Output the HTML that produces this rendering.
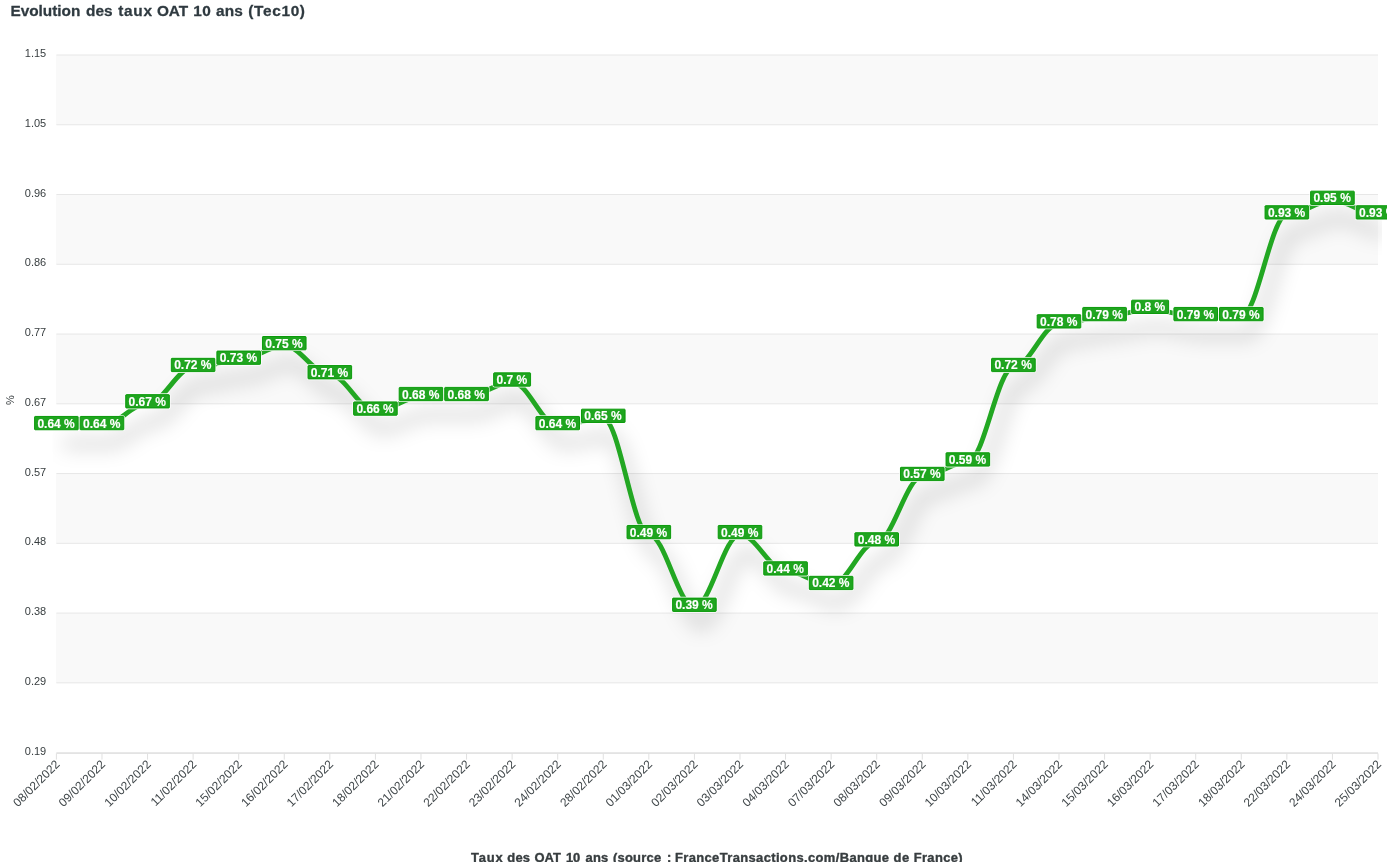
<!DOCTYPE html>
<html lang="fr"><head><meta charset="utf-8"><title>Evolution des taux OAT 10 ans (Tec10)</title>
<style>
html,body{margin:0;padding:0;background:#fff;}
body{width:1387px;height:862px;overflow:hidden;font-family:"Liberation Sans",Arial,Helvetica,sans-serif;}
svg{display:block;position:absolute;left:0;top:0;}
text{font-family:"Liberation Sans",Arial,Helvetica,sans-serif;}
.yl{font-size:11px;fill:#373d3f;text-anchor:end;}
.xl{font-size:12px;fill:#40474a;text-anchor:end;}
.dl{font-size:12px;font-weight:700;fill:#fff;stroke:#fff;stroke-width:0.15px;text-anchor:middle;}
.ttl{font-size:14px;font-weight:700;fill:#2f3a40;stroke:#2f3a40;stroke-width:0.25px;stroke-linejoin:round;}
.xt{font-size:12px;font-weight:700;fill:#373d3f;stroke:#373d3f;stroke-width:0.35px;stroke-linejoin:round;}
.yt{font-size:11px;fill:#373d3f;text-anchor:middle;}
</style></head><body>
<svg width="1387" height="862" viewBox="0 0 1387 862">
<defs><filter id="sh" filterUnits="userSpaceOnUse" x="-100" y="-100" width="1587" height="1062" color-interpolation-filters="sRGB">
<feFlood flood-color="#000" flood-opacity="0.33" result="f"/>
<feComposite in="f" in2="SourceAlpha" operator="in" result="c"/>
<feOffset in="c" dx="7" dy="18" result="o"/>
<feGaussianBlur in="o" stdDeviation="10" result="b"/>
<feMerge><feMergeNode in="b"/><feMergeNode in="SourceGraphic"/></feMerge>
</filter>
<clipPath id="cp"><rect x="52.4" y="51.0" width="1329.6" height="705.6"/></clipPath>
</defs>
<text class="ttl" y="0" transform="translate(0 16.1) scale(1.1 1.03)"><tspan x="9.55" textLength="63.45" lengthAdjust="spacing">Evolution</tspan> <tspan x="78.18" textLength="24.27" lengthAdjust="spacing">des</tspan> <tspan x="107.55" textLength="30.64" lengthAdjust="spacing">taux</tspan> <tspan x="142.64" textLength="28.45" lengthAdjust="spacing">OAT</tspan> <tspan x="175.73" textLength="16.00" lengthAdjust="spacing">10</tspan> <tspan x="196.36" textLength="24.45" lengthAdjust="spacing">ans</tspan> <tspan x="225.64" textLength="51.64" lengthAdjust="spacing">(Tec10)</tspan></text>
<rect x="56" y="55.00" width="1322" height="69.76" fill="#f3f3f3" fill-opacity="0.5"/>
<rect x="56" y="194.52" width="1322" height="69.76" fill="#f3f3f3" fill-opacity="0.5"/>
<rect x="56" y="334.04" width="1322" height="69.76" fill="#f3f3f3" fill-opacity="0.5"/>
<rect x="56" y="473.56" width="1322" height="69.76" fill="#f3f3f3" fill-opacity="0.5"/>
<rect x="56" y="613.08" width="1322" height="69.76" fill="#f3f3f3" fill-opacity="0.5"/>
<line x1="56.4" y1="55.00" x2="1378.0" y2="55.00" stroke="#e7e7e7" stroke-width="1"/>
<line x1="56.4" y1="124.76" x2="1378.0" y2="124.76" stroke="#e7e7e7" stroke-width="1"/>
<line x1="56.4" y1="194.52" x2="1378.0" y2="194.52" stroke="#e7e7e7" stroke-width="1"/>
<line x1="56.4" y1="264.28" x2="1378.0" y2="264.28" stroke="#e7e7e7" stroke-width="1"/>
<line x1="56.4" y1="334.04" x2="1378.0" y2="334.04" stroke="#e7e7e7" stroke-width="1"/>
<line x1="56.4" y1="403.80" x2="1378.0" y2="403.80" stroke="#e7e7e7" stroke-width="1"/>
<line x1="56.4" y1="473.56" x2="1378.0" y2="473.56" stroke="#e7e7e7" stroke-width="1"/>
<line x1="56.4" y1="543.32" x2="1378.0" y2="543.32" stroke="#e7e7e7" stroke-width="1"/>
<line x1="56.4" y1="613.08" x2="1378.0" y2="613.08" stroke="#e7e7e7" stroke-width="1"/>
<line x1="56.4" y1="682.84" x2="1378.0" y2="682.84" stroke="#e7e7e7" stroke-width="1"/>
<line x1="56.4" y1="752.60" x2="1378.0" y2="752.60" stroke="#e7e7e7" stroke-width="1"/>
<line x1="56.4" y1="753.4" x2="1378.0" y2="753.4" stroke="#e0e0e0" stroke-width="1"/>
<line x1="56.40" y1="753.4" x2="56.40" y2="759.60" stroke="#e0e0e0" stroke-width="1"/>
<line x1="101.97" y1="753.4" x2="101.97" y2="759.60" stroke="#e0e0e0" stroke-width="1"/>
<line x1="147.54" y1="753.4" x2="147.54" y2="759.60" stroke="#e0e0e0" stroke-width="1"/>
<line x1="193.12" y1="753.4" x2="193.12" y2="759.60" stroke="#e0e0e0" stroke-width="1"/>
<line x1="238.69" y1="753.4" x2="238.69" y2="759.60" stroke="#e0e0e0" stroke-width="1"/>
<line x1="284.26" y1="753.4" x2="284.26" y2="759.60" stroke="#e0e0e0" stroke-width="1"/>
<line x1="329.83" y1="753.4" x2="329.83" y2="759.60" stroke="#e0e0e0" stroke-width="1"/>
<line x1="375.41" y1="753.4" x2="375.41" y2="759.60" stroke="#e0e0e0" stroke-width="1"/>
<line x1="420.98" y1="753.4" x2="420.98" y2="759.60" stroke="#e0e0e0" stroke-width="1"/>
<line x1="466.55" y1="753.4" x2="466.55" y2="759.60" stroke="#e0e0e0" stroke-width="1"/>
<line x1="512.12" y1="753.4" x2="512.12" y2="759.60" stroke="#e0e0e0" stroke-width="1"/>
<line x1="557.70" y1="753.4" x2="557.70" y2="759.60" stroke="#e0e0e0" stroke-width="1"/>
<line x1="603.27" y1="753.4" x2="603.27" y2="759.60" stroke="#e0e0e0" stroke-width="1"/>
<line x1="648.84" y1="753.4" x2="648.84" y2="759.60" stroke="#e0e0e0" stroke-width="1"/>
<line x1="694.41" y1="753.4" x2="694.41" y2="759.60" stroke="#e0e0e0" stroke-width="1"/>
<line x1="739.99" y1="753.4" x2="739.99" y2="759.60" stroke="#e0e0e0" stroke-width="1"/>
<line x1="785.56" y1="753.4" x2="785.56" y2="759.60" stroke="#e0e0e0" stroke-width="1"/>
<line x1="831.13" y1="753.4" x2="831.13" y2="759.60" stroke="#e0e0e0" stroke-width="1"/>
<line x1="876.70" y1="753.4" x2="876.70" y2="759.60" stroke="#e0e0e0" stroke-width="1"/>
<line x1="922.28" y1="753.4" x2="922.28" y2="759.60" stroke="#e0e0e0" stroke-width="1"/>
<line x1="967.85" y1="753.4" x2="967.85" y2="759.60" stroke="#e0e0e0" stroke-width="1"/>
<line x1="1013.42" y1="753.4" x2="1013.42" y2="759.60" stroke="#e0e0e0" stroke-width="1"/>
<line x1="1058.99" y1="753.4" x2="1058.99" y2="759.60" stroke="#e0e0e0" stroke-width="1"/>
<line x1="1104.57" y1="753.4" x2="1104.57" y2="759.60" stroke="#e0e0e0" stroke-width="1"/>
<line x1="1150.14" y1="753.4" x2="1150.14" y2="759.60" stroke="#e0e0e0" stroke-width="1"/>
<line x1="1195.71" y1="753.4" x2="1195.71" y2="759.60" stroke="#e0e0e0" stroke-width="1"/>
<line x1="1241.28" y1="753.4" x2="1241.28" y2="759.60" stroke="#e0e0e0" stroke-width="1"/>
<line x1="1286.86" y1="753.4" x2="1286.86" y2="759.60" stroke="#e0e0e0" stroke-width="1"/>
<line x1="1332.43" y1="753.4" x2="1332.43" y2="759.60" stroke="#e0e0e0" stroke-width="1"/>
<line x1="1378.00" y1="753.4" x2="1378.00" y2="759.60" stroke="#e0e0e0" stroke-width="1"/>
<text class="xl" x="60.50" y="765.00" transform="rotate(-45 60.50 765.00)">08/02/2022</text>
<text class="xl" x="106.07" y="765.00" transform="rotate(-45 106.07 765.00)">09/02/2022</text>
<text class="xl" x="151.64" y="765.00" transform="rotate(-45 151.64 765.00)">10/02/2022</text>
<text class="xl" x="197.22" y="765.00" transform="rotate(-45 197.22 765.00)">11/02/2022</text>
<text class="xl" x="242.79" y="765.00" transform="rotate(-45 242.79 765.00)">15/02/2022</text>
<text class="xl" x="288.36" y="765.00" transform="rotate(-45 288.36 765.00)">16/02/2022</text>
<text class="xl" x="333.93" y="765.00" transform="rotate(-45 333.93 765.00)">17/02/2022</text>
<text class="xl" x="379.51" y="765.00" transform="rotate(-45 379.51 765.00)">18/02/2022</text>
<text class="xl" x="425.08" y="765.00" transform="rotate(-45 425.08 765.00)">21/02/2022</text>
<text class="xl" x="470.65" y="765.00" transform="rotate(-45 470.65 765.00)">22/02/2022</text>
<text class="xl" x="516.22" y="765.00" transform="rotate(-45 516.22 765.00)">23/02/2022</text>
<text class="xl" x="561.80" y="765.00" transform="rotate(-45 561.80 765.00)">24/02/2022</text>
<text class="xl" x="607.37" y="765.00" transform="rotate(-45 607.37 765.00)">28/02/2022</text>
<text class="xl" x="652.94" y="765.00" transform="rotate(-45 652.94 765.00)">01/03/2022</text>
<text class="xl" x="698.51" y="765.00" transform="rotate(-45 698.51 765.00)">02/03/2022</text>
<text class="xl" x="744.09" y="765.00" transform="rotate(-45 744.09 765.00)">03/03/2022</text>
<text class="xl" x="789.66" y="765.00" transform="rotate(-45 789.66 765.00)">04/03/2022</text>
<text class="xl" x="835.23" y="765.00" transform="rotate(-45 835.23 765.00)">07/03/2022</text>
<text class="xl" x="880.80" y="765.00" transform="rotate(-45 880.80 765.00)">08/03/2022</text>
<text class="xl" x="926.38" y="765.00" transform="rotate(-45 926.38 765.00)">09/03/2022</text>
<text class="xl" x="971.95" y="765.00" transform="rotate(-45 971.95 765.00)">10/03/2022</text>
<text class="xl" x="1017.52" y="765.00" transform="rotate(-45 1017.52 765.00)">11/03/2022</text>
<text class="xl" x="1063.09" y="765.00" transform="rotate(-45 1063.09 765.00)">14/03/2022</text>
<text class="xl" x="1108.67" y="765.00" transform="rotate(-45 1108.67 765.00)">15/03/2022</text>
<text class="xl" x="1154.24" y="765.00" transform="rotate(-45 1154.24 765.00)">16/03/2022</text>
<text class="xl" x="1199.81" y="765.00" transform="rotate(-45 1199.81 765.00)">17/03/2022</text>
<text class="xl" x="1245.38" y="765.00" transform="rotate(-45 1245.38 765.00)">18/03/2022</text>
<text class="xl" x="1290.96" y="765.00" transform="rotate(-45 1290.96 765.00)">22/03/2022</text>
<text class="xl" x="1336.53" y="765.00" transform="rotate(-45 1336.53 765.00)">24/03/2022</text>
<text class="xl" x="1382.10" y="765.00" transform="rotate(-45 1382.10 765.00)">25/03/2022</text>
<text class="yl" x="46.2" y="57.05">1.15</text>
<text class="yl" x="46.2" y="126.81">1.05</text>
<text class="yl" x="46.2" y="196.57">0.96</text>
<text class="yl" x="46.2" y="266.33">0.86</text>
<text class="yl" x="46.2" y="336.09">0.77</text>
<text class="yl" x="46.2" y="405.85">0.67</text>
<text class="yl" x="46.2" y="475.61">0.57</text>
<text class="yl" x="46.2" y="545.37">0.48</text>
<text class="yl" x="46.2" y="615.13">0.38</text>
<text class="yl" x="46.2" y="684.89">0.29</text>
<text class="yl" x="46.2" y="754.65">0.19</text>
<text class="yt" x="14" y="400" transform="rotate(-90 14 400)">%</text>
<g clip-path="url(#cp)"><path d="M56.40 425.60 C72.35 425.60 86.02 425.60 101.97 425.60 C117.92 425.60 131.59 403.80 147.54 403.80 C163.50 403.80 177.17 367.47 193.12 367.47 C209.07 367.47 222.74 360.20 238.69 360.20 C254.64 360.20 268.31 345.67 284.26 345.67 C300.21 345.67 313.88 374.73 329.83 374.73 C345.78 374.73 359.46 411.07 375.41 411.07 C391.36 411.07 405.03 396.53 420.98 396.53 C436.93 396.53 450.60 396.53 466.55 396.53 C482.50 396.53 496.17 382.00 512.12 382.00 C528.07 382.00 541.75 425.60 557.70 425.60 C573.65 425.60 587.32 418.33 603.27 418.33 C619.22 418.33 632.89 534.60 648.84 534.60 C664.79 534.60 678.46 607.27 694.41 607.27 C710.36 607.27 724.04 534.60 739.99 534.60 C755.94 534.60 769.61 570.93 785.56 570.93 C801.51 570.93 815.18 585.47 831.13 585.47 C847.08 585.47 860.75 541.87 876.70 541.87 C892.65 541.87 906.33 476.47 922.28 476.47 C938.23 476.47 951.90 461.93 967.85 461.93 C983.80 461.93 997.47 367.47 1013.42 367.47 C1029.37 367.47 1043.04 323.87 1058.99 323.87 C1074.94 323.87 1088.62 316.60 1104.57 316.60 C1120.52 316.60 1134.19 309.33 1150.14 309.33 C1166.09 309.33 1179.76 316.60 1195.71 316.60 C1211.66 316.60 1225.33 316.60 1241.28 316.60 C1257.23 316.60 1270.90 214.87 1286.86 214.87 C1302.81 214.87 1316.48 200.33 1332.43 200.33 C1348.38 200.33 1362.05 214.87 1378.00 214.87" fill="none" stroke="#22a722" stroke-width="4.8" stroke-linecap="butt" filter="url(#sh)"/></g>
<rect x="33.30" y="415.15" width="46.20" height="15.90" rx="2.6" ry="2.6" fill="#fff" fill-opacity="0.9"/>
<rect x="34.60" y="416.45" width="43.60" height="13.3" rx="0.6" ry="0.6" fill="#1fa51f" stroke="#0a9a0a" stroke-width="1"/>
<text class="dl" x="56.10" y="427.60">0.64 %</text>
<rect x="78.87" y="415.15" width="46.20" height="15.90" rx="2.6" ry="2.6" fill="#fff" fill-opacity="0.9"/>
<rect x="80.17" y="416.45" width="43.60" height="13.3" rx="0.6" ry="0.6" fill="#1fa51f" stroke="#0a9a0a" stroke-width="1"/>
<text class="dl" x="101.67" y="427.60">0.64 %</text>
<rect x="124.44" y="393.35" width="46.20" height="15.90" rx="2.6" ry="2.6" fill="#fff" fill-opacity="0.9"/>
<rect x="125.74" y="394.65" width="43.60" height="13.3" rx="0.6" ry="0.6" fill="#1fa51f" stroke="#0a9a0a" stroke-width="1"/>
<text class="dl" x="147.24" y="405.80">0.67 %</text>
<rect x="170.02" y="357.02" width="46.20" height="15.90" rx="2.6" ry="2.6" fill="#fff" fill-opacity="0.9"/>
<rect x="171.32" y="358.32" width="43.60" height="13.3" rx="0.6" ry="0.6" fill="#1fa51f" stroke="#0a9a0a" stroke-width="1"/>
<text class="dl" x="192.82" y="369.47">0.72 %</text>
<rect x="215.59" y="349.75" width="46.20" height="15.90" rx="2.6" ry="2.6" fill="#fff" fill-opacity="0.9"/>
<rect x="216.89" y="351.05" width="43.60" height="13.3" rx="0.6" ry="0.6" fill="#1fa51f" stroke="#0a9a0a" stroke-width="1"/>
<text class="dl" x="238.39" y="362.20">0.73 %</text>
<rect x="261.16" y="335.22" width="46.20" height="15.90" rx="2.6" ry="2.6" fill="#fff" fill-opacity="0.9"/>
<rect x="262.46" y="336.52" width="43.60" height="13.3" rx="0.6" ry="0.6" fill="#1fa51f" stroke="#0a9a0a" stroke-width="1"/>
<text class="dl" x="283.96" y="347.67">0.75 %</text>
<rect x="306.73" y="364.28" width="46.20" height="15.90" rx="2.6" ry="2.6" fill="#fff" fill-opacity="0.9"/>
<rect x="308.03" y="365.58" width="43.60" height="13.3" rx="0.6" ry="0.6" fill="#1fa51f" stroke="#0a9a0a" stroke-width="1"/>
<text class="dl" x="329.53" y="376.73">0.71 %</text>
<rect x="352.31" y="400.62" width="46.20" height="15.90" rx="2.6" ry="2.6" fill="#fff" fill-opacity="0.9"/>
<rect x="353.61" y="401.92" width="43.60" height="13.3" rx="0.6" ry="0.6" fill="#1fa51f" stroke="#0a9a0a" stroke-width="1"/>
<text class="dl" x="375.11" y="413.07">0.66 %</text>
<rect x="397.88" y="386.08" width="46.20" height="15.90" rx="2.6" ry="2.6" fill="#fff" fill-opacity="0.9"/>
<rect x="399.18" y="387.38" width="43.60" height="13.3" rx="0.6" ry="0.6" fill="#1fa51f" stroke="#0a9a0a" stroke-width="1"/>
<text class="dl" x="420.68" y="398.53">0.68 %</text>
<rect x="443.45" y="386.08" width="46.20" height="15.90" rx="2.6" ry="2.6" fill="#fff" fill-opacity="0.9"/>
<rect x="444.75" y="387.38" width="43.60" height="13.3" rx="0.6" ry="0.6" fill="#1fa51f" stroke="#0a9a0a" stroke-width="1"/>
<text class="dl" x="466.25" y="398.53">0.68 %</text>
<rect x="492.36" y="371.55" width="39.53" height="15.90" rx="2.6" ry="2.6" fill="#fff" fill-opacity="0.9"/>
<rect x="493.66" y="372.85" width="36.93" height="13.3" rx="0.6" ry="0.6" fill="#1fa51f" stroke="#0a9a0a" stroke-width="1"/>
<text class="dl" x="511.82" y="384.00">0.7 %</text>
<rect x="534.60" y="415.15" width="46.20" height="15.90" rx="2.6" ry="2.6" fill="#fff" fill-opacity="0.9"/>
<rect x="535.90" y="416.45" width="43.60" height="13.3" rx="0.6" ry="0.6" fill="#1fa51f" stroke="#0a9a0a" stroke-width="1"/>
<text class="dl" x="557.40" y="427.60">0.64 %</text>
<rect x="580.17" y="407.88" width="46.20" height="15.90" rx="2.6" ry="2.6" fill="#fff" fill-opacity="0.9"/>
<rect x="581.47" y="409.18" width="43.60" height="13.3" rx="0.6" ry="0.6" fill="#1fa51f" stroke="#0a9a0a" stroke-width="1"/>
<text class="dl" x="602.97" y="420.33">0.65 %</text>
<rect x="625.74" y="524.15" width="46.20" height="15.90" rx="2.6" ry="2.6" fill="#fff" fill-opacity="0.9"/>
<rect x="627.04" y="525.45" width="43.60" height="13.3" rx="0.6" ry="0.6" fill="#1fa51f" stroke="#0a9a0a" stroke-width="1"/>
<text class="dl" x="648.54" y="536.60">0.49 %</text>
<rect x="671.31" y="596.82" width="46.20" height="15.90" rx="2.6" ry="2.6" fill="#fff" fill-opacity="0.9"/>
<rect x="672.61" y="598.12" width="43.60" height="13.3" rx="0.6" ry="0.6" fill="#1fa51f" stroke="#0a9a0a" stroke-width="1"/>
<text class="dl" x="694.11" y="609.27">0.39 %</text>
<rect x="716.89" y="524.15" width="46.20" height="15.90" rx="2.6" ry="2.6" fill="#fff" fill-opacity="0.9"/>
<rect x="718.19" y="525.45" width="43.60" height="13.3" rx="0.6" ry="0.6" fill="#1fa51f" stroke="#0a9a0a" stroke-width="1"/>
<text class="dl" x="739.69" y="536.60">0.49 %</text>
<rect x="762.46" y="560.48" width="46.20" height="15.90" rx="2.6" ry="2.6" fill="#fff" fill-opacity="0.9"/>
<rect x="763.76" y="561.78" width="43.60" height="13.3" rx="0.6" ry="0.6" fill="#1fa51f" stroke="#0a9a0a" stroke-width="1"/>
<text class="dl" x="785.26" y="572.93">0.44 %</text>
<rect x="808.03" y="575.02" width="46.20" height="15.90" rx="2.6" ry="2.6" fill="#fff" fill-opacity="0.9"/>
<rect x="809.33" y="576.32" width="43.60" height="13.3" rx="0.6" ry="0.6" fill="#1fa51f" stroke="#0a9a0a" stroke-width="1"/>
<text class="dl" x="830.83" y="587.47">0.42 %</text>
<rect x="853.60" y="531.42" width="46.20" height="15.90" rx="2.6" ry="2.6" fill="#fff" fill-opacity="0.9"/>
<rect x="854.90" y="532.72" width="43.60" height="13.3" rx="0.6" ry="0.6" fill="#1fa51f" stroke="#0a9a0a" stroke-width="1"/>
<text class="dl" x="876.40" y="543.87">0.48 %</text>
<rect x="899.18" y="466.02" width="46.20" height="15.90" rx="2.6" ry="2.6" fill="#fff" fill-opacity="0.9"/>
<rect x="900.48" y="467.32" width="43.60" height="13.3" rx="0.6" ry="0.6" fill="#1fa51f" stroke="#0a9a0a" stroke-width="1"/>
<text class="dl" x="921.98" y="478.47">0.57 %</text>
<rect x="944.75" y="451.48" width="46.20" height="15.90" rx="2.6" ry="2.6" fill="#fff" fill-opacity="0.9"/>
<rect x="946.05" y="452.78" width="43.60" height="13.3" rx="0.6" ry="0.6" fill="#1fa51f" stroke="#0a9a0a" stroke-width="1"/>
<text class="dl" x="967.55" y="463.93">0.59 %</text>
<rect x="990.32" y="357.02" width="46.20" height="15.90" rx="2.6" ry="2.6" fill="#fff" fill-opacity="0.9"/>
<rect x="991.62" y="358.32" width="43.60" height="13.3" rx="0.6" ry="0.6" fill="#1fa51f" stroke="#0a9a0a" stroke-width="1"/>
<text class="dl" x="1013.12" y="369.47">0.72 %</text>
<rect x="1035.89" y="313.42" width="46.20" height="15.90" rx="2.6" ry="2.6" fill="#fff" fill-opacity="0.9"/>
<rect x="1037.19" y="314.72" width="43.60" height="13.3" rx="0.6" ry="0.6" fill="#1fa51f" stroke="#0a9a0a" stroke-width="1"/>
<text class="dl" x="1058.69" y="325.87">0.78 %</text>
<rect x="1081.47" y="306.15" width="46.20" height="15.90" rx="2.6" ry="2.6" fill="#fff" fill-opacity="0.9"/>
<rect x="1082.77" y="307.45" width="43.60" height="13.3" rx="0.6" ry="0.6" fill="#1fa51f" stroke="#0a9a0a" stroke-width="1"/>
<text class="dl" x="1104.27" y="318.60">0.79 %</text>
<rect x="1130.37" y="298.88" width="39.53" height="15.90" rx="2.6" ry="2.6" fill="#fff" fill-opacity="0.9"/>
<rect x="1131.67" y="300.18" width="36.93" height="13.3" rx="0.6" ry="0.6" fill="#1fa51f" stroke="#0a9a0a" stroke-width="1"/>
<text class="dl" x="1149.84" y="311.33">0.8 %</text>
<rect x="1172.61" y="306.15" width="46.20" height="15.90" rx="2.6" ry="2.6" fill="#fff" fill-opacity="0.9"/>
<rect x="1173.91" y="307.45" width="43.60" height="13.3" rx="0.6" ry="0.6" fill="#1fa51f" stroke="#0a9a0a" stroke-width="1"/>
<text class="dl" x="1195.41" y="318.60">0.79 %</text>
<rect x="1218.18" y="306.15" width="46.20" height="15.90" rx="2.6" ry="2.6" fill="#fff" fill-opacity="0.9"/>
<rect x="1219.48" y="307.45" width="43.60" height="13.3" rx="0.6" ry="0.6" fill="#1fa51f" stroke="#0a9a0a" stroke-width="1"/>
<text class="dl" x="1240.98" y="318.60">0.79 %</text>
<rect x="1263.76" y="204.42" width="46.20" height="15.90" rx="2.6" ry="2.6" fill="#fff" fill-opacity="0.9"/>
<rect x="1265.06" y="205.72" width="43.60" height="13.3" rx="0.6" ry="0.6" fill="#1fa51f" stroke="#0a9a0a" stroke-width="1"/>
<text class="dl" x="1286.56" y="216.87">0.93 %</text>
<rect x="1309.33" y="189.88" width="46.20" height="15.90" rx="2.6" ry="2.6" fill="#fff" fill-opacity="0.9"/>
<rect x="1310.63" y="191.18" width="43.60" height="13.3" rx="0.6" ry="0.6" fill="#1fa51f" stroke="#0a9a0a" stroke-width="1"/>
<text class="dl" x="1332.13" y="202.33">0.95 %</text>
<rect x="1354.90" y="204.42" width="46.20" height="15.90" rx="2.6" ry="2.6" fill="#fff" fill-opacity="0.9"/>
<rect x="1356.20" y="205.72" width="43.60" height="13.3" rx="0.6" ry="0.6" fill="#1fa51f" stroke="#0a9a0a" stroke-width="1"/>
<text class="dl" x="1377.70" y="216.87">0.93 %</text>
<text class="xt" y="0" transform="translate(0 861.9) scale(1.08 1.0)"><tspan x="436.20" textLength="29.35" lengthAdjust="spacing">Taux</tspan> <tspan x="469.72" textLength="21.02" lengthAdjust="spacing">des</tspan> <tspan x="494.91" textLength="24.44" lengthAdjust="spacing">OAT</tspan> <tspan x="523.98" textLength="13.15" lengthAdjust="spacing">10</tspan> <tspan x="542.22" textLength="20.83" lengthAdjust="spacing">ans</tspan> <tspan x="567.69" textLength="44.44" lengthAdjust="spacing">(source</tspan> <tspan x="617.50">:</tspan> <tspan x="625.00" textLength="198.15" lengthAdjust="spacing">FranceTransactions.com/Banque</tspan> <tspan x="827.41" textLength="14.44" lengthAdjust="spacing">de</tspan> <tspan x="846.02" textLength="45.28" lengthAdjust="spacing">France)</tspan></text>
</svg></body></html>
